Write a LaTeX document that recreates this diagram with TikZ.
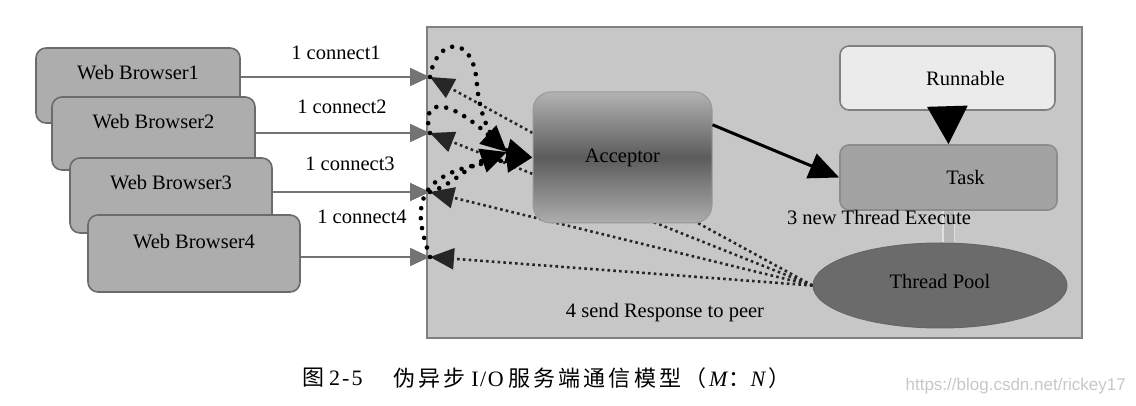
\documentclass[tikz,border=0pt]{standalone}
\usepackage{fontspec}
\setmainfont{Liberation Serif}
\newfontfamily\cjk[LetterSpace=14]{Noto Sans CJK SC}
\newfontfamily\wmfont{Liberation Sans}
\usetikzlibrary{arrows.meta,shapes.geometric,calc}
\tikzset{
  server/.style={draw=black!50, line width=2pt, fill=black!22},
  browser/.style={draw=black!58, line width=1.6pt, fill=black!32, rounded corners=10pt, inner sep=0pt},
  lbl/.style={anchor=center, yshift=-25pt},
  conn/.style={draw=black!55, line width=2pt, -{Triangle[length=20pt,width=18pt]}},
  connlbl/.style={inner sep=0pt},
  resp/.style={draw=black!85, line width=2.6pt, dash pattern=on 2.6pt off 3.2pt, -{Triangle[length=24pt,width=21pt]}},
  loopline/.style={draw=black, line width=4.6pt, line cap=round, dash pattern=on 0pt off 10pt, -{Triangle[length=26pt,width=24pt]}},
  acceptorbox/.style={rounded corners=18pt, draw=black!40, line width=1pt, top color=black!30, bottom color=black!32, middle color=black!64, minimum width=179pt, minimum height=131pt},
  runbox/.style={draw=black!50, line width=1.6pt, fill=black!8, rounded corners=9pt, minimum width=215pt, minimum height=64pt},
  taskbox/.style={draw=black!45, line width=1.6pt, fill=black!36, rounded corners=9pt, minimum width=217pt, minimum height=65pt},
  poolshape/.style={ellipse, draw=black!60, line width=1pt, fill=black!58, minimum width=254pt, minimum height=85pt, inner sep=0pt},
  captext/.style={anchor=west, inner sep=0pt, font=\fontsize{22}{24}\selectfont},
}
\begin{document}
\begin{tikzpicture}[x=1pt,y=-1pt, font=\fontsize{20.5}{24}\selectfont]
\useasboundingbox (0,0) rectangle (1136,406);
% server area
\node[server, minimum width=655pt, minimum height=310pt] (srv) at (754,182.5) {};
% browsers
\node[browser, minimum width=204pt, minimum height=75pt, label={[lbl]north:Web Browser1}] (b1) at (138,85.5) {};
\node[browser, minimum width=203pt, minimum height=73pt, label={[lbl]north:Web Browser2}] (b2) at (153.5,133.5) {};
\node[browser, minimum width=202pt, minimum height=75pt, label={[lbl]north:Web Browser3}] (b3) at (171,195.5) {};
\node[browser, minimum width=212pt, minimum height=77pt, label={[lbl,yshift=-2pt]north:Web Browser4}] (b4) at (194,253.5) {};
% arrow tips at server edge
\coordinate (t1) at (430,77);
\coordinate (t2) at (430,133);
\coordinate (t3) at (430,192);
\coordinate (t4) at (430,257);
\draw[conn] (b1.east |- t1) -- (t1);
\draw[conn] (b2.east |- t2) -- (t2);
\draw[conn] (b3.east |- t3) -- (t3);
\draw[conn] (b4.east |- t4) -- (t4);
\node[connlbl] (c1) at (336,53) {1 connect1};
\node[connlbl] (c2) at (342,107) {1 connect2};
\node[connlbl] (c3) at (350,164) {1 connect3};
\node[connlbl] (c4) at (362,217) {1 connect4};
% right side
\node[runbox] (run) at (947.5,78) {\hspace*{36pt}Runnable};
\node[taskbox] (task) at (948.5,177.5) {\hspace*{34pt}Task};
\node[poolshape] (tp) at (940,285.5) {\raisebox{8pt}{Thread Pool}};
% Task to pool (faint)
\draw[draw=black!12, double=black!28, double distance=10pt, line width=1.5pt] (task.south) -- (task.south |- tp.north);
% responses
\draw[resp] (tp.west) -- (t1);
\draw[resp] (tp.west) -- (t2);
\draw[resp] (tp.west) -- (t3);
\draw[resp] (tp.west) -- (t4);
% acceptor
\node[acceptorbox] (acc) at (622.5,157.5) {Acceptor};
\coordinate (ain) at (507,152);
% accept loops
\draw[loopline] (t1) .. controls (436,38) and (474,32) .. (477,85) .. controls (480,120) and (495,148) .. (acc.west);
\draw[loopline] (t2) .. controls (420,95) and (450,100) .. (ain);
\draw[loopline] (t3) .. controls (452,185) and (470,165) .. (ain);
\draw[loopline] (t4) .. controls (412,205) and (412,170) .. (acc.west);
% acceptor to task
\draw[draw=black, line width=3pt, -{Triangle[length=30pt,width=26pt]}] (acc.20) -- (task.west);
% runnable to task
\draw[draw=black, line width=3pt, -{Triangle[length=38pt,width=40pt]}] (run.south) -- (task.north);
% texts
\node[inner sep=0pt] (exec) at (879,217) {3 new Thread Execute};
\node[inner sep=0pt] (sendr) at (665,313) {4 send Response to peer};
% caption
\node[captext] (cap1) at (302,378) {{\cjk 图}\hspace{5pt}2\kern2pt-\kern2pt5};
\node[captext] (cap2) at (393,378) {{\cjk 伪异步}\hspace{6pt}I\kern1.5pt/\kern1.5pt O\hspace{5pt}{\cjk 服务端通信模型（}\hspace{3pt}\textit{M}{\cjk ：}\textit{N}\hspace{2pt}{\cjk ）}};
\node[anchor=east, inner sep=0pt, text=black!22, font=\wmfont\fontsize{17}{20}\selectfont] (wm) at (1126,386) {https://blog.csdn.net/rickey17};
\end{tikzpicture}
\end{document}
